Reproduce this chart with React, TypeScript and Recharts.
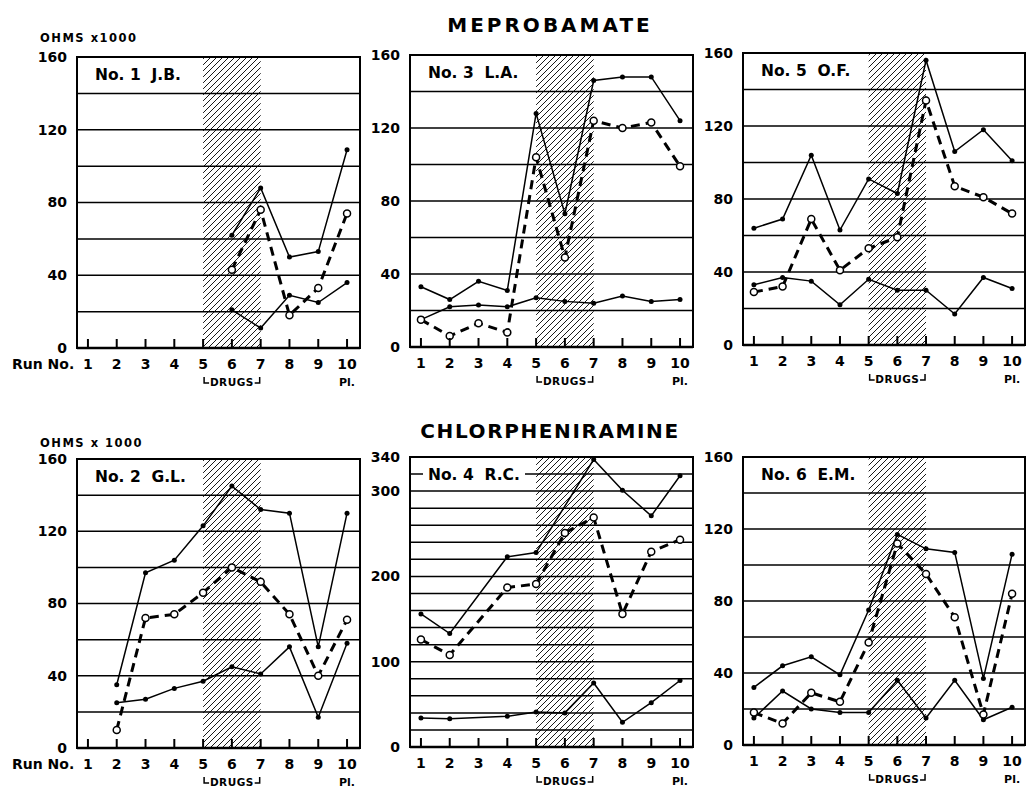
import { LineChart, Line, XAxis, YAxis, ReferenceArea, ReferenceLine } from 'recharts';

const runs = [1, 2, 3, 4, 5, 6, 7, 8, 9, 10];

// Meprobamate
const jbUpper = [null, null, null, null, null, 62, 88, 50, 53, 109];
const jbDashed = [null, null, null, null, null, 43, 76, 18, 33, 74];
const jbLower = [null, null, null, null, null, 21, 11, 29, 25, 36];

const laUpper = [33, 26, 36, 31, 128, 73, 146, 148, 148, 124];
const laDashed = [15, 6, 13, 8, 104, 49, 124, 120, 123, 99];
const laLower = [15, 22, 23, 22, 27, 25, 24, 28, 25, 26];

const ofUpper = [64, 69, 104, 63, 91, 83, 156, 106, 118, 101];
const ofDashed = [29, 32, 69, 41, 53, 59, 134, 87, 81, 72];
const ofLower = [33, 37, 35, 22, 36, 30, 30, 17, 37, 31];

// Chlorpheniramine
const glUpper = [null, 35, 97, 104, 123, 145, 132, 130, 56, 130];
const glDashed = [null, 10, 72, 74, 86, 100, 92, 74, 40, 71];
const glLower = [null, 25, 27, 33, 37, 45, 41, 56, 17, 58];

const rcUpper = [156, 133, null, 223, 228, null, 337, 301, 271, 318];
const rcDashed = [126, 108, null, 187, 191, 251, 269, 156, 229, 243];
const rcLower = [34, 33, null, 36, 41, 40, 75, 29, 52, 78];

const emUpper = [32, 44, 49, 39, 75, 117, 109, 107, 37, 106];
const emDashed = [18, 12, 29, 24, 57, 112, 95, 71, 17, 84];
const emLower = [15, 30, 20, 18, 18, 36, 15, 36, 14, 21];

const ticks160 = [0, 40, 80, 120, 160];
const grid160 = [20, 40, 60, 80, 100, 120, 140];
const ticks340 = [0, 100, 200, 300, 340];
const grid340 = [20, 40, 60, 80, 100, 120, 140, 160, 180, 200, 220, 240, 260, 280, 300, 320];

const FONT = '"DejaVu Sans", sans-serif';
const X_MIN = 0.62;
const X_MAX = 10.45;

type Box = { x: number; y: number; w: number; h: number };
type Vals = (number | null)[];

function Panel({ id, box, label, upper, dashed, lower, yMax, yTicks, grid, runNo }: {
  id: string; box: Box; label: string; upper: Vals; dashed: Vals; lower: Vals;
  yMax: number; yTicks: number[]; grid: number[]; runNo?: boolean;
}) {
  const data = runs.map((run, i) => ({ run, upper: upper[i], dashed: dashed[i], lower: lower[i] }));
  const ML = 46, MT = 12, MB = 48, MR = 4;
  const step = box.w / (X_MAX - X_MIN);

  const RunTick = (props: any) => {
    const { x, y, payload } = props;
    const v = payload.value;
    return (
      <g>
        {/* small tick standing up from the axis */}
        <path d={`M${x},${y} V${y - 9}`} stroke="#000" strokeWidth={2} />
        <text x={x} y={y + 17} textAnchor="middle" dominantBaseline="middle"
          fontFamily={FONT} fontWeight="bold" fontSize={14} fill="#000">{v}</text>
        {v === 10 && (
          <text x={x} y={y + 35} textAnchor="middle" dominantBaseline="middle"
            fontFamily={FONT} fontWeight="bold" fontSize={11} fill="#000">Pl.</text>
        )}
        {v === 6 && (
          <g>
            <path d={`M${x - step + 1},${y + 29} v6 h5 M${x + step - 1},${y + 29} v6 h-5`}
              stroke="#000" strokeWidth={1.5} fill="none" />
            <text x={x} y={y + 35} textAnchor="middle" dominantBaseline="middle" letterSpacing={0.5}
              fontFamily={FONT} fontWeight="bold" fontSize={10.5} fill="#000">DRUGS</text>
          </g>
        )}
      </g>
    );
  };

  return (
    <div style={{ position: 'absolute', left: box.x - ML, top: box.y - MT }}>
      <LineChart width={box.w + ML + MR} height={box.h + MT + MB} data={data}
        margin={{ top: MT, right: MR, left: 0, bottom: 0 }}>
        <defs>
          <pattern id={`hatch-${id}`} patternUnits="userSpaceOnUse" width={6} height={6}>
            <path d="M-1,1 l2,-2 M0,6 l6,-6 M5,7 l2,-2" stroke="#000" strokeWidth={0.9} />
          </pattern>
        </defs>
        <XAxis dataKey="run" type="number" domain={[X_MIN, X_MAX]} ticks={runs} height={MB}
          axisLine={{ stroke: '#000', strokeWidth: 2.5 }} tickLine={false} tickSize={0} tickMargin={0}
          tick={<RunTick />} interval={0} allowDataOverflow />
        <YAxis type="number" domain={[0, yMax]} ticks={yTicks} width={ML} interval={0}
          axisLine={{ stroke: '#000', strokeWidth: 2 }} tickLine={false} tickMargin={4}
          tick={{ fill: '#000', fontSize: 14, fontFamily: FONT, fontWeight: 'bold' }} />
        <ReferenceArea x1={5} x2={7} y1={0} y2={yMax} fill={`url(#hatch-${id})`} fillOpacity={1} stroke="none" />
        {grid.map((g) => (
          <ReferenceLine key={g} y={g} stroke="#000" strokeWidth={1.5} />
        ))}
        <ReferenceArea x1={X_MIN} x2={X_MAX} y1={0} y2={yMax} fill="none" stroke="#000" strokeWidth={2} ifOverflow="visible" />
        <Line dataKey="upper" stroke="#000" strokeWidth={1.5} connectNulls isAnimationActive={false}
          dot={{ r: 2.5, fill: '#000', stroke: '#000', strokeWidth: 0 }} />
        <Line dataKey="lower" stroke="#000" strokeWidth={1.5} connectNulls isAnimationActive={false}
          dot={{ r: 2.5, fill: '#000', stroke: '#000', strokeWidth: 0 }} />
        <Line dataKey="dashed" stroke="#000" strokeWidth={3} strokeDasharray="9 6" connectNulls isAnimationActive={false}
          dot={{ r: 3.5, fill: '#fff', stroke: '#000', strokeWidth: 1.5, strokeDasharray: 'none' }} />
      </LineChart>
      <div style={{
        position: 'absolute', left: ML + 13, top: MT + 7, background: '#fff', padding: '1px 5px',
        fontFamily: FONT, fontWeight: 'bold', fontSize: 15.5, whiteSpace: 'pre', lineHeight: '20px',
      }}>{label}</div>
      {runNo && (
        <div style={{
          position: 'absolute', left: ML - 65, top: MT + box.h + 9, fontFamily: FONT, lineHeight: '14px',
          fontWeight: 'bold', fontSize: 14, whiteSpace: 'pre',
        }}>Run No.</div>
      )}
    </div>
  );
}

export default function App() {
  const textStyle = {
    position: 'absolute' as const, fontFamily: FONT, fontWeight: 'bold' as const,
    whiteSpace: 'pre' as const, color: '#000',
  };
  return (
    <div style={{ position: 'absolute', left: 0, top: 0, width: 1028, height: 793, background: '#fff', overflow: 'hidden' }}>
      <div style={{ ...textStyle, left: 400, width: 300, textAlign: 'center', top: 14, fontSize: 20, lineHeight: '22px', letterSpacing: 3 }}>MEPROBAMATE</div>
      <div style={{ ...textStyle, left: 400, width: 300, textAlign: 'center', top: 420, fontSize: 20, lineHeight: '22px', letterSpacing: 1.6 }}>CHLORPHENIRAMINE</div>
      <div style={{ ...textStyle, left: 40, top: 32, fontSize: 11.5, lineHeight: '12px', letterSpacing: 1.5 }}>OHMS x1000</div>
      <div style={{ ...textStyle, left: 40, top: 437, fontSize: 11.5, lineHeight: '12px', letterSpacing: 1.5 }}>OHMS x 1000</div>

      <Panel id="jb" box={{ x: 77, y: 57, w: 283, h: 291 }} label="No. 1  J.B."
        upper={jbUpper} dashed={jbDashed} lower={jbLower} yMax={160} yTicks={ticks160} grid={grid160} runNo />
      <Panel id="la" box={{ x: 410, y: 55, w: 283, h: 292 }} label="No. 3  L.A."
        upper={laUpper} dashed={laDashed} lower={laLower} yMax={160} yTicks={ticks160} grid={grid160} />
      <Panel id="of" box={{ x: 743, y: 53, w: 282, h: 292 }} label="No. 5  O.F."
        upper={ofUpper} dashed={ofDashed} lower={ofLower} yMax={160} yTicks={ticks160} grid={grid160} />

      <Panel id="gl" box={{ x: 77, y: 459, w: 283, h: 289 }} label="No. 2  G.L."
        upper={glUpper} dashed={glDashed} lower={glLower} yMax={160} yTicks={ticks160} grid={grid160} runNo />
      <Panel id="rc" box={{ x: 410, y: 457, w: 283, h: 290 }} label="No. 4  R.C."
        upper={rcUpper} dashed={rcDashed} lower={rcLower} yMax={340} yTicks={ticks340} grid={grid340} />
      <Panel id="em" box={{ x: 743, y: 457, w: 282, h: 288 }} label="No. 6  E.M."
        upper={emUpper} dashed={emDashed} lower={emLower} yMax={160} yTicks={ticks160} grid={grid160} />
    </div>
  );
}
